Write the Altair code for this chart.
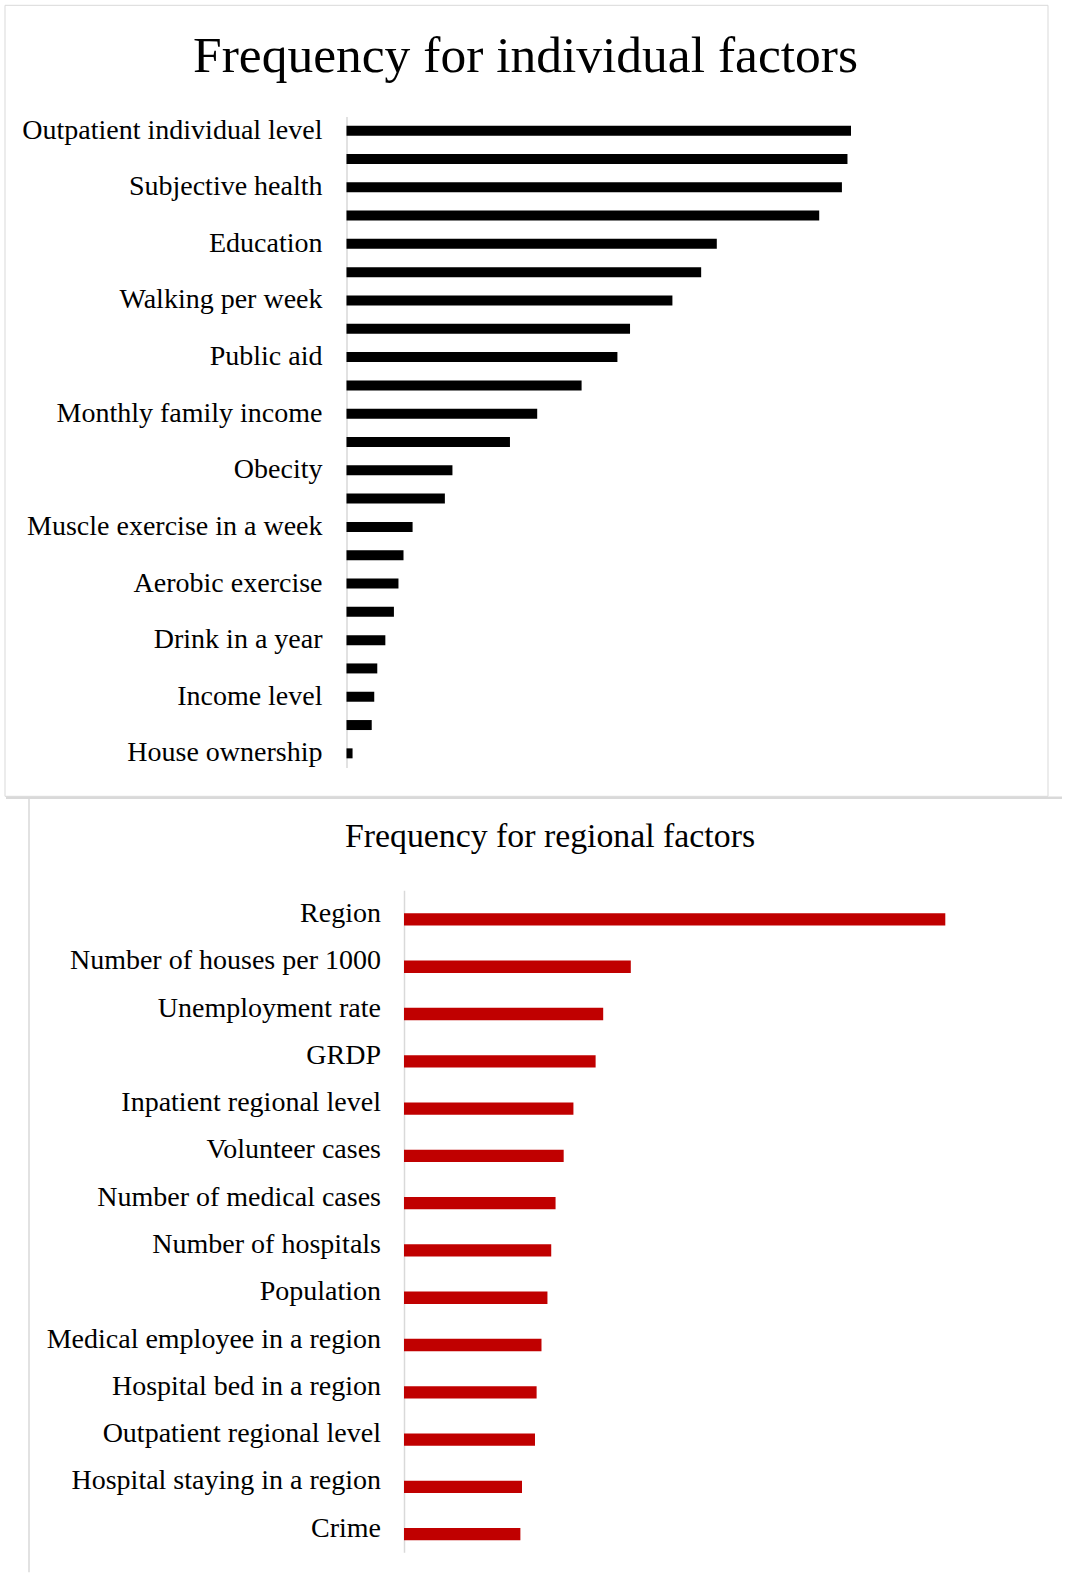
import altair as alt
import pandas as pd

# ---------------- data ----------------
individual_labels = [
    "Outpatient individual level", "Subjective health", "Education",
    "Walking per week", "Public aid", "Monthly family income", "Obecity",
    "Muscle exercise in a week", "Aerobic exercise", "Drink in a year",
    "Income level", "House ownership",
]
# 23 bars; only every other bar carries a label in the original chart
individual_values = [100, 99.3, 98.2, 93.7, 73.4, 70.3, 64.6, 56.2, 53.7, 46.6,
                     37.8, 32.4, 21.0, 19.5, 13.1, 11.3, 10.3, 9.4, 7.7, 6.1,
                     5.5, 5.0, 1.2]

regional_labels = [
    "Region", "Number of houses per 1000", "Unemployment rate", "GRDP",
    "Inpatient regional level", "Volunteer cases", "Number of medical cases",
    "Number of hospitals", "Population", "Medical employee in a region",
    "Hospital bed in a region", "Outpatient regional level",
    "Hospital staying in a region", "Crime",
]
regional_values = [100, 41.9, 36.8, 35.4, 31.3, 29.5, 28.0, 27.2, 26.5, 25.4,
                   24.5, 24.2, 21.8, 21.5]

title_individual = "Frequency for individual factors"
title_regional = "Frequency for regional factors"

# ---------------- tables ----------------
ind_factor = []
for i in range(len(individual_values)):
    if i % 2 == 0:
        ind_factor.append(individual_labels[i // 2])
    else:
        ind_factor.append(f"(unlabelled {i // 2 + 1})")
ind_df = pd.DataFrame({"factor": ind_factor, "value": individual_values})
reg_df = pd.DataFrame({"factor": regional_labels, "value": regional_values})
one = pd.DataFrame({"k": [0]})

FONT = "Liberation Serif"
GREY = "#d9d9d9"

# ---------------- top panel ----------------
W1, H1 = 695, 651
top_bars = alt.Chart(ind_df).mark_bar(color="#000000").encode(
    x=alt.X("value:Q", scale=alt.Scale(domain=[0, 137.76], nice=False), axis=None),
    y=alt.Y("factor:N", sort=ind_factor,
            scale=alt.Scale(paddingInner=0.647, paddingOuter=0.3235),
            axis=alt.Axis(values=individual_labels, title=None, ticks=False,
                          domainColor=GREY, domainWidth=1.5,
                          labelFont=FONT, labelFontSize=28, labelColor="#000000",
                          labelPadding=24.5, labelLimit=600)),
)
top_frame = alt.Chart(one).mark_rect(fillOpacity=0, stroke=GREY, strokeWidth=1).encode(
    x=alt.value(-341.5), x2=alt.value(701.5), y=alt.value(-111.2), y2=alt.value(679.8)
)
top_title = alt.Chart(one).mark_text(
    font=FONT, fontSize=51.5, align="center", baseline="alphabetic", color="#000000"
).encode(x=alt.value(179), y=alt.value(-44.2), text=alt.value(title_individual))

top = alt.layer(top_frame, top_bars, top_title).properties(width=W1, height=H1)

# ---------------- bottom panel ----------------
W2, H2 = 580, 662
bot_bars = alt.Chart(reg_df).mark_bar(color="#C00000", yOffset=5.5).encode(
    x=alt.X("value:Q", scale=alt.Scale(domain=[0, 107.15], nice=False), axis=None),
    y=alt.Y("factor:N", sort=regional_labels,
            scale=alt.Scale(paddingInner=0.739, paddingOuter=0.3695),
            axis=alt.Axis(title=None, ticks=False,
                          domainColor=GREY, domainWidth=1.5,
                          labelFont=FONT, labelFontSize=28, labelColor="#000000",
                          labelPadding=23.5, labelLimit=600)),
)
bot_top_rule = alt.Chart(one).mark_rule(color=GREY, strokeWidth=2.5).encode(
    x=alt.value(-398), x2=alt.value(658), y=alt.value(-92.5)
)
bot_left_rule = alt.Chart(one).mark_rule(color=GREY, strokeWidth=1.5).encode(
    x=alt.value(-375), y=alt.value(-92.5), y2=alt.value(682)
)
bot_title = alt.Chart(one).mark_text(
    font=FONT, fontSize=33.8, align="center", baseline="alphabetic", color="#000000"
).encode(x=alt.value(146), y=alt.value(-43), text=alt.value(title_regional))

bottom = alt.layer(bot_top_rule, bot_left_rule, bot_bars, bot_title).properties(
    width=W2, height=H2
)

chart = alt.vconcat(top, bottom, spacing=122.8, bounds="flush", center=True).properties(
    padding={"left": 4.5, "top": 4.5, "right": 0, "bottom": 0},
    background="white",
).configure_view(stroke=None)

chart.save("out.html", embed_options={"renderer": "svg", "actions": False})
